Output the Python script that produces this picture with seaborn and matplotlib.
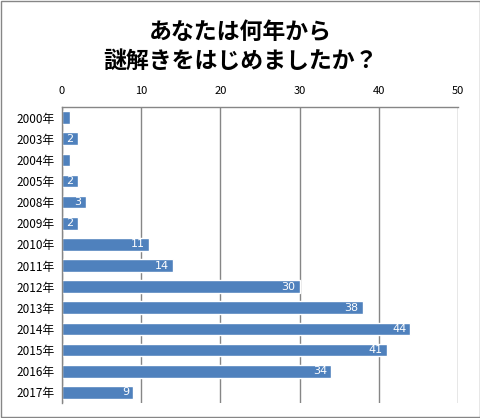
import pandas as pd
import seaborn as sns
import matplotlib.pyplot as plt

# dados do gráfico
anos = ['2000年', '2003年', '2004年', '2005年', '2008年', '2009年', '2010年',
        '2011年', '2012年', '2013年', '2014年', '2015年', '2016年', '2017年']
respostas = [1, 2, 1, 2, 3, 2, 11, 14, 30, 38, 44, 41, 34, 9]
titulo = 'あなたは何年から\n謎解きをはじめましたか？'

df = pd.DataFrame({'ano': anos, 'n': respostas})

sns.set_style('white')
plt.rcParams['font.family'] = ['Noto Sans CJK JP', 'DejaVu Sans']
plt.rcParams['text.color'] = 'black'
plt.rcParams['xtick.color'] = 'black'
plt.rcParams['ytick.color'] = 'black'

fig = plt.figure(figsize=(4.81, 4.18), dpi=100)
ax = fig.add_axes([0.129, 0.036, 0.823, 0.708])

sns.barplot(data=df, y='ano', x='n', order=anos, color='#4F81BD',
            saturation=1, width=0.6, orient='h', ax=ax)

ax.set_xlim(0, 50)
ax.set_xticks(range(0, 51, 10))
ax.xaxis.tick_top()
ax.tick_params(axis='x', length=0, pad=8, labelsize=8)
ax.tick_params(axis='y', length=0, pad=5, labelsize=8.5)
ax.set_xlabel('')
ax.set_ylabel('')
ax.grid(axis='x', color='#868686', linewidth=1)
ax.set_axisbelow(True)

for lado in ['bottom', 'right']:
    ax.spines[lado].set_visible(False)
for lado in ['top', 'left']:
    ax.spines[lado].set_color('#868686')
    ax.spines[lado].set_linewidth(1)

# rótulos de dados dentro da barra
for i, v in enumerate(respostas):
    if v > 1:
        ax.annotate(str(v), (v, i), xytext=(-3, 0), textcoords='offset points',
                    ha='right', va='center', color='white', fontsize=8,
                    family='DejaVu Sans')

fig.text(0.5, 0.888, titulo, ha='center', va='center', fontsize=16.5,
         fontweight='bold', linespacing=1.35, color='black')

# moldura
fig.patches.append(plt.Rectangle((0.002, 0.002), 0.996, 0.996, transform=fig.transFigure,
                                 fill=False, edgecolor='#868686', linewidth=1))

fig.savefig('out.png', dpi=100)
